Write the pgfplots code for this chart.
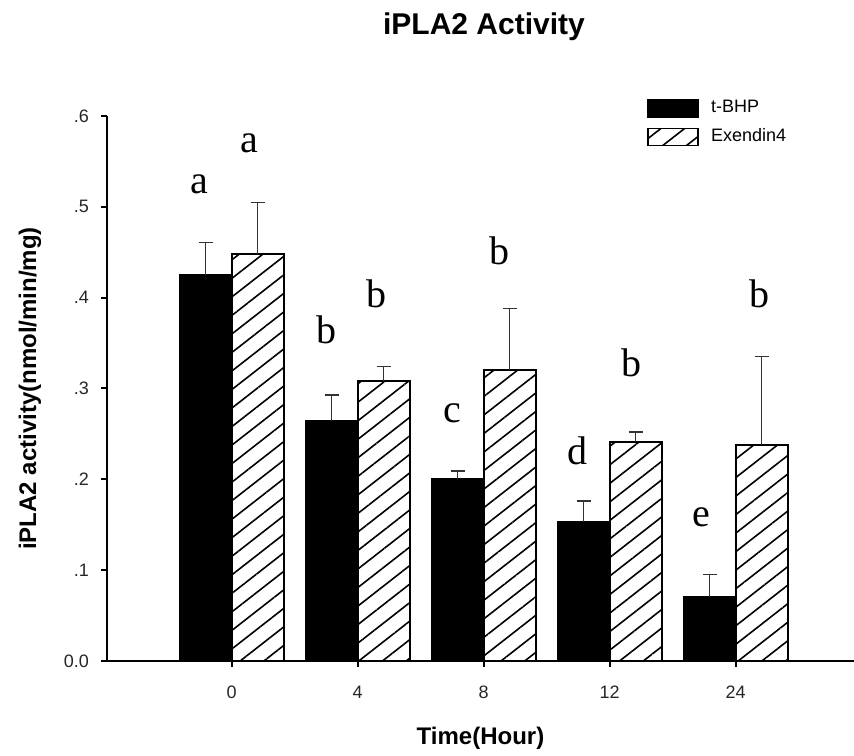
\documentclass[border=0pt]{standalone}
\usepackage{fontspec}
\setmainfont{Liberation Sans}
\newfontfamily\lserif{Liberation Serif}
\usepackage{pgfplots}
\pgfplotsset{compat=1.18}
\usetikzlibrary{patterns.meta}

\begin{document}
\begin{tikzpicture}
\begin{axis}[
  name=ax,
  scale only axis,
  width=373.5pt, height=272.5pt,
  xmin=-0.99, xmax=4.94,
  ymin=0, ymax=0.6,
  clip=false,
  axis x line=bottom, axis y line=left,
  axis line style={-, line width=1.2pt},
  xtick={0,1,2,3,4}, xticklabels={0,4,8,12,24},
  ytick={0,0.1,0.2,0.3,0.4,0.5,0.6},
  yticklabels={0.0,.1,.2,.3,.4,.5,.6},
  tick align=outside, major tick length=3pt,
  tick style={line width=1pt, black},
  tick label style={font=\fontsize{9}{10}\selectfont, text=black!85},
  xticklabel style={yshift=-6pt},
  yticklabel style={xshift=-2.5pt},
  xlabel={\bfseries Time(Hour)},
  ylabel={\bfseries iPLA2 activity(nmol/min/mg)},
  label style={font=\fontsize{12}{14}\selectfont},
  xlabel style={at={(axis description cs:0.5,0)}, anchor=center, yshift=-38.5pt},
  ylabel style={at={(axis description cs:0,0.5)}, anchor=center, yshift=38.5pt},
  title={iPLA2 Activity},
  title style={at={(axis description cs:0.5,1)}, anchor=center, yshift=38.5pt, xshift=1.75pt, font=\bfseries\fontsize{15}{17}\selectfont},
  legend style={at={(axis description cs:0.723,1.0365)}, anchor=north west, draw=none, fill=none,
    font=\fontsize{9}{10}\selectfont, inner sep=0pt, row sep=2.5pt,
    /tikz/every odd column/.append style={column sep=4pt}},
  legend cell align=left,
  legend image code/.code={\draw[#1, line width=0.8pt] (0pt,-4.25pt) rectangle (25pt,4.25pt);},
]
\addplot[ybar, bar width=26pt, bar shift=0pt, fill=black, draw=black, line width=1pt,
  error bars/.cd, y dir=plus, y explicit,
  error bar style={line width=0.7pt, black!80},
  error mark options={rotate=90, mark size=3.5pt, line width=0.7pt, black!80}]
  coordinates {
  (-0.2064,0.425) +- (0,0.036)
  (0.7936,0.264) +- (0,0.029)
  (1.7936,0.200) +- (0,0.009)
  (2.7936,0.153) +- (0,0.023)
  (3.7936,0.070) +- (0,0.025)
  };
\addlegendentry{t-BHP}
\addplot[ybar, bar width=26pt, bar shift=0pt, fill=white, draw=black, line width=1pt,
  postaction={pattern={Lines[angle=38, distance=7.3pt, line width=0.8pt]}},
  error bars/.cd, y dir=plus, y explicit,
  error bar style={line width=0.7pt, black!80},
  error mark options={rotate=90, mark size=3.5pt, line width=0.7pt, black!80}]
  coordinates {
  (0.2064,0.448) +- (0,0.057)
  (1.2064,0.308) +- (0,0.016)
  (2.2064,0.320) +- (0,0.068)
  (3.2064,0.241) +- (0,0.011)
  (4.2064,0.238) +- (0,0.097)
  };
\addlegendentry{Exendin4}
\begin{scope}[every node/.style={anchor=base, inner sep=0pt, font=\lserif\fontsize{20}{22}\selectfont}]
\node at (axis cs:-0.254,0.515) {a};
\node at (axis cs:0.143,0.560) {a};
\node at (axis cs:0.754,0.350) {b};
\node at (axis cs:1.151,0.389) {b};
\node at (axis cs:1.754,0.263) {c};
\node at (axis cs:2.127,0.436) {b};
\node at (axis cs:2.746,0.216) {d};
\node at (axis cs:3.175,0.313) {b};
\node at (axis cs:3.730,0.148) {e};
\node at (axis cs:4.190,0.389) {b};
\end{scope}
\end{axis}
\pgfresetboundingbox
\path[use as bounding box] ([shift={(-53.5pt,-47.5pt)}]ax.south west) rectangle ([shift={(0pt,58pt)}]ax.north east);
\end{tikzpicture}
\end{document}
